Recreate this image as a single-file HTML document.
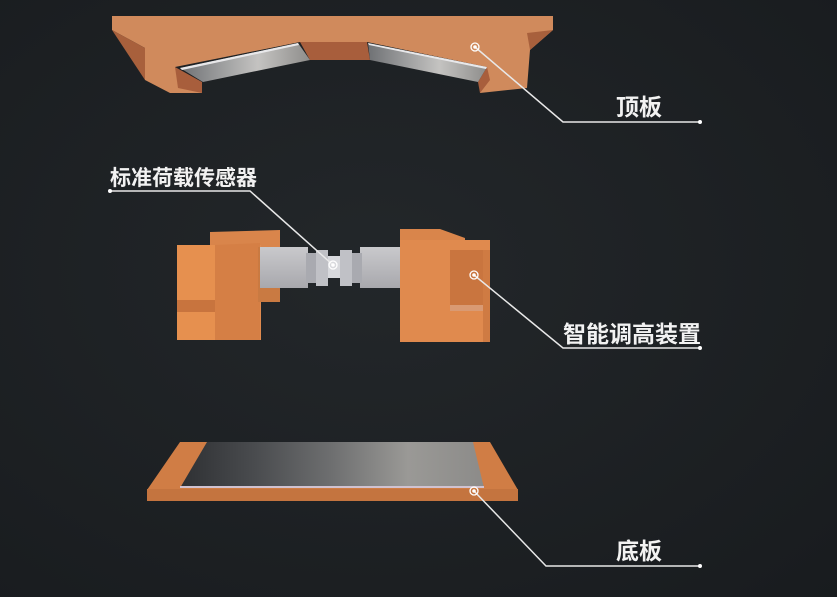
<!DOCTYPE html>
<html><head><meta charset="utf-8"><style>
html,body{margin:0;padding:0;background:#1c1f22;}
svg{display:block}
text{font-family:"Liberation Sans","Noto Sans CJK SC",sans-serif;font-weight:bold;fill:#f2f2f2;font-size:23px}
</style></head><body>
<svg width="837" height="597" viewBox="0 0 837 597" xmlns="http://www.w3.org/2000/svg">
<defs>
<radialGradient id="bg" cx="0.45" cy="0.45" r="0.8"><stop offset="0" stop-color="#23272a"/><stop offset="1" stop-color="#181b1e"/></radialGradient>
<linearGradient id="metal" x1="0" x2="1"><stop offset="0" stop-color="#6f7174"/><stop offset="0.3" stop-color="#9a9b9c"/><stop offset="0.6" stop-color="#c4c3c1"/><stop offset="1" stop-color="#8e8d8b"/></linearGradient>
<linearGradient id="metal2" x1="0" x2="1"><stop offset="0" stop-color="#2e3033"/><stop offset="0.25" stop-color="#4a4c4f"/><stop offset="0.5" stop-color="#6e6f70"/><stop offset="0.75" stop-color="#9a9996"/><stop offset="1" stop-color="#8c8b89"/></linearGradient>
<linearGradient id="bar" x1="0" y1="0" x2="0" y2="1"><stop offset="0" stop-color="#c9c9cc"/><stop offset="1" stop-color="#a8a8ad"/></linearGradient>
</defs>
<rect width="837" height="597" fill="url(#bg)"/>

<polygon points="112,16 553,16 553,30 530,50 527,88 480,93 487,67 367,42 300,42 175,67 202,93 170,93 145,80 145,48 112,30" fill="#d08a5c"/>
<polygon points="112,30 145,48 145,80 112,30" fill="#a8603c"/>
<polygon points="553,30 530,50 527,33" fill="#a8603c"/>
<polygon points="300,42 367,42 370,60 310,60" fill="#a85e3c"/>
<polygon points="175,67 202,82 202,93 178,88" fill="#a85e3c"/>
<polygon points="487,67 478,82 480,93 490,80" fill="#a85e3c"/>
<polygon points="180,68 298,43 310,60 203,82" fill="url(#metal)"/>
<polygon points="368,43 487,67 478,82 370,60" fill="url(#metal)"/>
<polygon points="180,68 298,43 299,45 182,70" fill="#e8e8ea"/>
<polygon points="368,43 487,67 486,69 369,45" fill="#e8e8ea"/>

<polygon points="210,232 280,230 280,248 210,248" fill="#d9854b"/>
<rect x="177" y="245" width="84" height="95" fill="#e08a4e"/>
<polygon points="177,245 215,245 215,340 177,340" fill="#e6904f"/>
<polygon points="215,245 260,243 260,340 215,340" fill="#d57f45"/>
<rect x="177" y="300" width="38" height="12" fill="#c8743e"/>
<rect x="258" y="247" width="22" height="55" fill="#c97a42"/>
<rect x="260" y="247" width="48" height="41" fill="url(#bar)"/>
<rect x="360" y="247" width="43" height="41" fill="url(#bar)"/>
<rect x="306" y="253" width="10" height="30" fill="#a9aab0"/>
<rect x="316" y="250" width="12" height="36" fill="#c0c1c6"/>
<rect x="328" y="256" width="12" height="22" fill="#d8d9dd"/>
<rect x="340" y="250" width="12" height="36" fill="#c0c1c6"/>
<rect x="352" y="253" width="10" height="30" fill="#a9aab0"/>
<polygon points="400,229 440,229 465,238 465,250 400,250" fill="#d9854b"/>
<rect x="400" y="240" width="90" height="102" fill="#e08a4e"/>
<rect x="450" y="250" width="33" height="58" fill="#c9753f"/>
<rect x="450" y="305" width="40" height="6" fill="#d99a73"/>
<rect x="483" y="250" width="7" height="92" fill="#cf7b43"/>

<polygon points="180,442 490,442 518,490 147,490" fill="#d07d45"/>
<rect x="147" y="489" width="371" height="12" fill="#c4743f"/>
<polygon points="207,442 473,442 484,488 180,488" fill="url(#metal2)"/>
<rect x="180" y="486" width="304" height="2" fill="#d0c2d0"/>

<g stroke="#e8e8e8" stroke-width="1.5" fill="none">
<polyline points="475,47 563,122 700,122"/>
<polyline points="110,191 250,191 333,265"/>
<polyline points="474,275 563,348 700,348"/>
<polyline points="474,491 546,566 700,566"/>
</g>
<g fill="#fff">
<circle cx="700" cy="122" r="2"/><circle cx="110" cy="191" r="2"/><circle cx="700" cy="348" r="2"/><circle cx="700" cy="566" r="2"/>
</g>
<g fill="none" stroke="#fff" stroke-width="1.3">
<circle cx="475" cy="47" r="4"/><circle cx="333" cy="265" r="4"/><circle cx="474" cy="275" r="4"/><circle cx="474" cy="491" r="4"/>
</g>
<g fill="#fff"><circle cx="475" cy="47" r="1.8"/><circle cx="333" cy="265" r="1.8"/><circle cx="474" cy="275" r="1.8"/><circle cx="474" cy="491" r="1.8"/></g>

<text x="616" y="115">顶板</text>
<text x="110" y="185" style="font-size:21px">标准荷载传感器</text>
<text x="563" y="342">智能调高装置</text>
<text x="616" y="559">底板</text>
</svg>
</body></html>
